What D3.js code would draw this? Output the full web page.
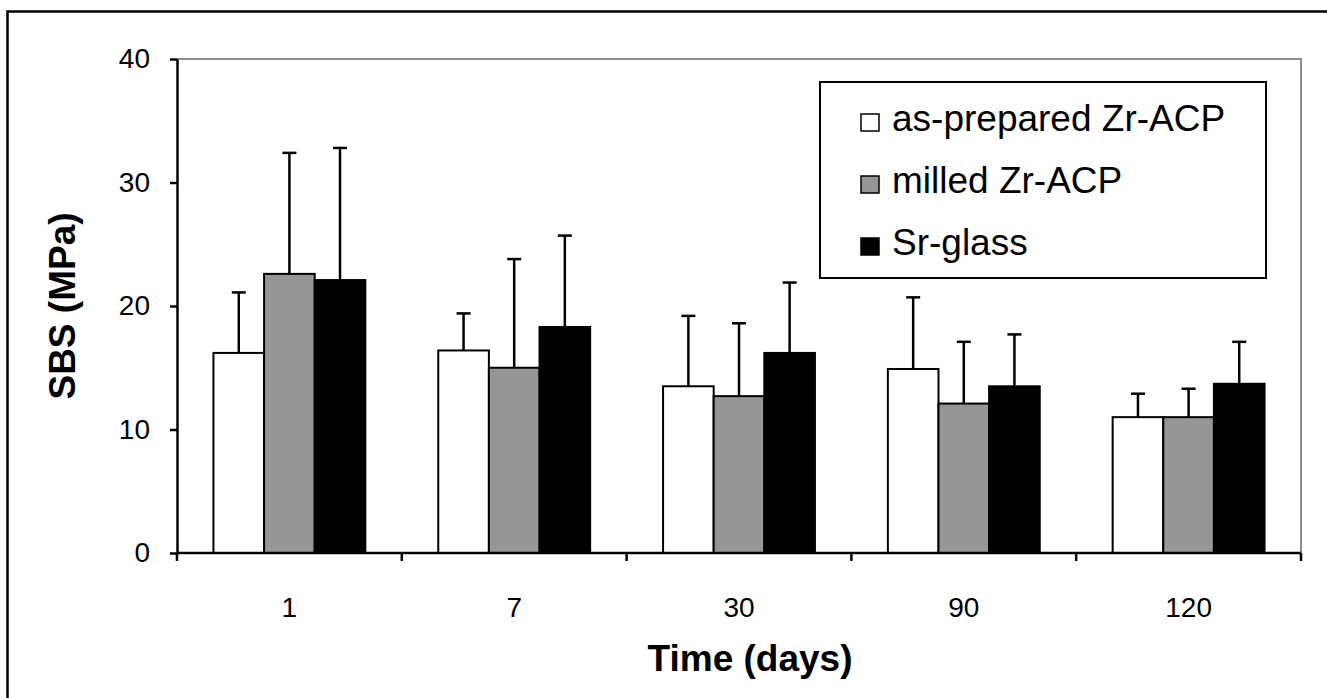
<!DOCTYPE html>
<html>
<head>
<meta charset="utf-8">
<script src="https://cdn.jsdelivr.net/npm/d3@7"></script>
<style>
  body { margin: 0; background: #fff; }
  svg { display: block; font-family: "Liberation Sans", Arial, sans-serif; }
</style>
</head>
<body>
<div id="chart"></div>
<script>
// categories and series
const days = ["1", "7", "30", "90", "120"];
const seriesNames = ["as-prepared Zr-ACP", "milled Zr-ACP", "Sr-glass"];
const seriesColors = ["#ffffff", "#969696", "#000000"];

const asPrepared = [16.2, 16.4, 13.5, 14.9, 11.0];
const milled = [22.6, 15.0, 12.7, 12.1, 11.0];
const srGlass = [22.1, 18.3, 16.2, 13.5, 13.7];

// upper error (SD) for each bar
const asPreparedErr = [4.9, 3.0, 5.7, 5.8, 1.9];
const milledErr = [9.8, 8.8, 5.9, 5.0, 2.3];
const srGlassErr = [10.7, 7.4, 5.7, 4.2, 3.4];

const yTicks = [0, 10, 20, 30, 40];

const W = 1327, H = 698;
const plot = { left: 177, right: 1301, top: 59, bottom: 553 };

const svg = d3.select("#chart").append("svg")
  .attr("width", W)
  .attr("height", H);

// outer frame (left + top only)
svg.append("path")
  .attr("d", `M7.5,${H} L7.5,11.5 L${W},11.5`)
  .attr("fill", "none")
  .attr("stroke", "#000")
  .attr("stroke-width", 2.5);

const x0 = d3.scaleBand()
  .domain(days)
  .range([plot.left, plot.right])
  .paddingInner(0)
  .paddingOuter(0);

const x1 = d3.scaleBand()
  .domain(d3.range(seriesNames.length))
  .range([0, x0.bandwidth()])
  .paddingOuter(0.72)
  .paddingInner(0);

const y = d3.scaleLinear()
  .domain([0, 40])
  .range([plot.bottom, plot.top]);

// grey plot border (top/right)
svg.append("path")
  .attr("d", `M${plot.left},${plot.top} L${plot.right},${plot.top} L${plot.right},${plot.bottom}`)
  .attr("fill", "none")
  .attr("stroke", "#8c8c8c")
  .attr("stroke-width", 2);

const values = [asPrepared, milled, srGlass];
const errors = [asPreparedErr, milledErr, srGlassErr];

const bars = [];
days.forEach((d, i) => {
  values.forEach((vals, s) => {
    bars.push({ day: d, s: s, v: vals[i], e: errors[s][i] });
  });
});

// error bars first, so bars sit over the lower half
const capW = 14;
const eb = svg.append("g");
bars.forEach(b => {
  const cx = x0(b.day) + x1(b.s) + x1.bandwidth() / 2;
  eb.append("line")
    .attr("x1", cx).attr("x2", cx)
    .attr("y1", y(b.v)).attr("y2", y(b.v + b.e))
    .attr("stroke", "#000").attr("stroke-width", 2.5);
  eb.append("line")
    .attr("x1", cx - capW / 2).attr("x2", cx + capW / 2)
    .attr("y1", y(b.v + b.e)).attr("y2", y(b.v + b.e))
    .attr("stroke", "#000").attr("stroke-width", 2.5);
});

svg.append("g")
  .selectAll("rect")
  .data(bars)
  .join("rect")
    .attr("x", d => x0(d.day) + x1(d.s))
    .attr("y", d => y(d.v))
    .attr("width", x1.bandwidth())
    .attr("height", d => y(0) - y(d.v))
    .attr("fill", d => seriesColors[d.s])
    .attr("stroke", "#000")
    .attr("stroke-width", 2);

// y axis
const yAxis = svg.append("g")
  .attr("transform", `translate(${plot.left},0)`)
  .call(d3.axisLeft(y).tickValues(yTicks).tickSize(7).tickSizeOuter(0).tickPadding(20));
yAxis.select(".domain").attr("stroke", "#000").attr("stroke-width", 2.5);
yAxis.selectAll(".tick line").attr("stroke", "#000").attr("stroke-width", 2.5);
yAxis.selectAll(".tick text")
  .attr("font-size", 28)
  .attr("font-family", "Liberation Sans, Arial, sans-serif")
  .attr("fill", "#000");

// x axis: ticks between categories
const xAxisG = svg.append("g")
  .attr("transform", `translate(0,${plot.bottom})`);
xAxisG.append("line")
  .attr("x1", plot.left).attr("x2", plot.right)
  .attr("stroke", "#000").attr("stroke-width", 2.5);
const boundaries = days.map(d => x0(d)).concat([plot.right]);
xAxisG.selectAll(".bt")
  .data(boundaries)
  .join("line")
    .attr("class", "bt")
    .attr("x1", d => d).attr("x2", d => d)
    .attr("y1", 0).attr("y2", 8)
    .attr("stroke", "#000").attr("stroke-width", 2.5);
xAxisG.selectAll("text")
  .data(days)
  .join("text")
    .attr("x", d => x0(d) + x0.bandwidth() / 2)
    .attr("y", 64)
    .attr("text-anchor", "middle")
    .attr("font-size", 28)
    .text(d => d);

// axis titles
svg.append("text")
  .attr("x", (plot.left + plot.right) / 2 + 11)
  .attr("y", 671)
  .attr("text-anchor", "middle")
  .attr("font-size", 37)
  .attr("font-weight", "bold")
  .text("Time (days)");

svg.append("text")
  .attr("transform", `translate(75,${(plot.top + plot.bottom) / 2}) rotate(-90)`)
  .attr("text-anchor", "middle")
  .attr("font-size", 37)
  .attr("font-weight", "bold")
  .text("SBS (MPa)");

// legend
const legend = svg.append("g");
legend.append("rect")
  .attr("x", 820).attr("y", 82)
  .attr("width", 446).attr("height", 196)
  .attr("fill", "#fff")
  .attr("stroke", "#000")
  .attr("stroke-width", 2);

seriesNames.forEach((name, i) => {
  const base = 131 + i * 62;
  legend.append("rect")
    .attr("x", 861).attr("y", base - 17)
    .attr("width", 18).attr("height", 17)
    .attr("fill", seriesColors[i])
    .attr("stroke", "#000")
    .attr("stroke-width", 1.5);
  legend.append("text")
    .attr("x", 892).attr("y", base)
    .attr("font-size", 37)
    .text(name);
});
</script>
</body>
</html>
